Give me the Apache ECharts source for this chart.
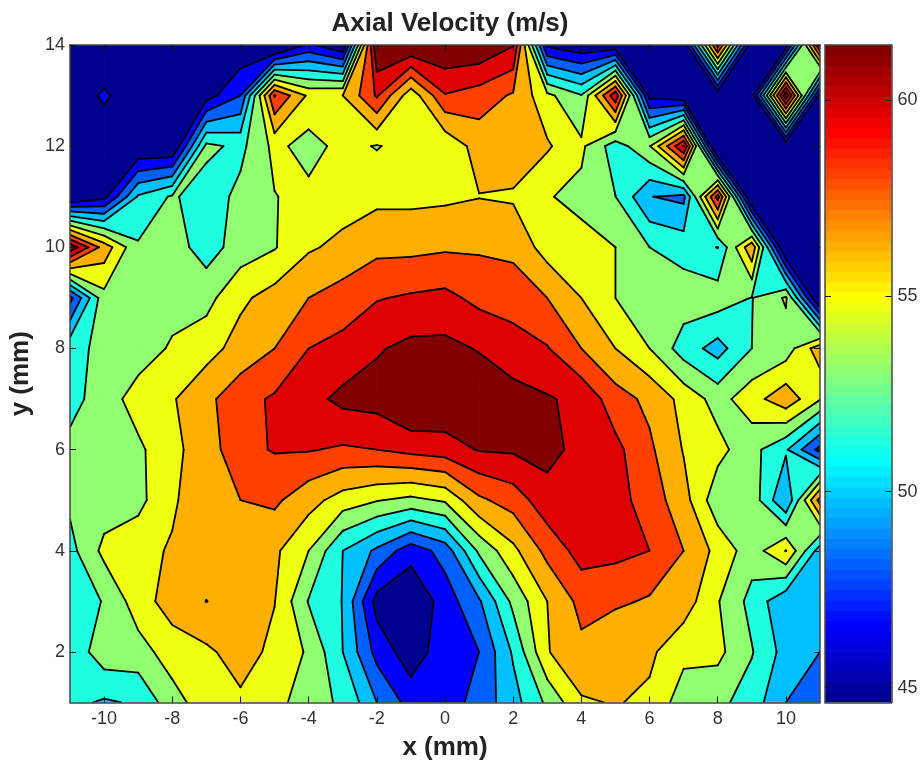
<!DOCTYPE html>
<html>
<head>
<meta charset="utf-8">
<style>html,body{margin:0;padding:0;background:#fff}#c{width:923px;height:762px}</style>
<script src="https://cdn.jsdelivr.net/npm/echarts@6/dist/echarts.min.js"></script>
</head>
<body>
<div id="c"></div>
<script>
const xValues = [-11,-10,-9,-8,-7,-6,-5,-4,-3,-2,-1,0,1,2,3,4,5,6,7,8,9,10,11];
const yValues = [14,13,12,11,10,9,8,7,6,5,4,3,2,1];
const row14 = [44.5,44.5,44.5,44.5,44.5,45,43.5,46.6,44.8,61.4,61.5,61.3,61.2,60,46,45.1,45,44.5,45,59,45,45.3,60];
const row13 = [45,46.6,45.1,45.1,45.6,47.8,58.5,55,55.3,58.6,54.3,58.3,57.7,56.7,54.2,52.4,59.5,45.8,45,45,45.5,61,45.5];
const row12 = [44.5,45,44.7,44.6,52.7,51.9,54.2,53.2,54.3,53.7,54.4,54.05,56,56.3,55.5,54.1,51.5,53.7,60,43,44.5,44.9,44];
const row11 = [44.5,45.8,51,52.5,51.5,52.7,53.75,54.2,54.6,54.9,54.9,55,55.25,55.1,53.9,53.4,52.32,49.35,48.9,59,44,44,44];
const row10 = [61,56.2,52.5,53,51.6,53,53.7,55.1,55.7,56.5,56.5,56.7,56.7,56.5,54.6,54.3,53.8,52.3,51.7,50.75,56.5,44,44];
const row9  = [47.3,53.3,53.2,53.2,53.3,55,55.9,56.9,57.6,58.3,58.6,58.8,58,57.8,56.9,55.3,53.8,53.2,53.1,53.1,52.25,54,44];
const row8  = [51.8,52.7,53,54,54.7,55.9,56.9,58.4,58.85,59.75,60.3,60.3,59.8,59,58.5,56.9,55.3,53.8,51.56,50.2,52.3,53,56.2];
const row7  = [51.8,53,54.5,55.15,56.5,57.9,58.6,59.4,60.3,60.5,61.6,61.2,61,60.5,60.05,59.5,57.6,56.5,54.8,53.2,54.7,56.3,53.9];
const row6  = [52.7,53,53.5,54.9,56.1,58,58.5,58.5,58.2,58.4,58.9,59.2,60,60.1,60.4,59.4,58.8,57.2,55.2,54.3,52.8,51,47.3];
const row5  = [52.6,53,53.4,55,56.7,56.9,57.2,55.9,54.6,53.9,53.4,54,56.6,57.6,59.3,59.4,58.9,57.8,55.9,52.8,53.2,49.3,57.5];
const row4  = [51.8,54.2,54.7,55.5,56.3,56.6,55.6,53.8,50.8,49,46.9,48.4,52.6,54.9,57.4,59,58.8,58.4,56.9,54.8,53,55.35,50];
const row3  = [51.3,52.4,54.6,56,56.92,56.3,55.35,52.2,50.75,45.7,44.9,47,49.1,52.7,55.3,57.4,57.2,56.7,56.1,53.9,51.8,49.6,50];
const row2  = [51.2,53.2,53.2,54.5,55,56,54.9,53.6,50.8,47.3,45.4,47.2,47.8,51,55.2,56.5,55.3,55.6,54.2,54.2,52.4,50.2,49.3];
const row1  = [51.2,50.6,51,53.2,54.6,55,54.6,52.55,52.2,49.3,47.2,47,48.4,50.2,52.6,55.1,55.4,55,53,52.7,51.6,49.3,48.5];
const rows = [row14,row13,row12,row11,row10,row9,row8,row7,row6,row5,row4,row3,row2,row1];

const levels = [46.3,47.8,49.3,50.8,52.3,53.8,55.3,56.9,58.4,59.9];
const bandColors = ['#00008F','#0000FF','#0060FF','#00C0FF','#20FFDF','#90FF70','#EFFF10','#FFAF00','#FF4000','#DF0000','#800000'];
const xTicks = [-10,-8,-6,-4,-2,0,2,4,6,8,10];
const yTicks = [2,4,6,8,10,12,14];
const barTicks = [45,50,55,60];
const barMin = 44.62, barMax = 61.4;
const jet = ['#00008F','#00009F','#0000AF','#0000BF','#0000CF','#0000DF','#0000EF','#0000FF','#0010FF','#0020FF','#0030FF','#0040FF','#0050FF','#0060FF','#0070FF','#0080FF','#008FFF','#009FFF','#00AFFF','#00BFFF','#00CFFF','#00DFFF','#00EFFF','#00FFFF','#10FFEF','#20FFDF','#30FFCF','#40FFBF','#50FFAF','#60FF9F','#70FF8F','#80FF80','#8FFF70','#9FFF60','#AFFF50','#BFFF40','#CFFF30','#DFFF20','#EFFF10','#FFFF00','#FFEF00','#FFDF00','#FFCF00','#FFBF00','#FFAF00','#FF9F00','#FF8F00','#FF8000','#FF7000','#FF6000','#FF5000','#FF4000','#FF3000','#FF2000','#FF1000','#FF0000','#EF0000','#DF0000','#CF0000','#BF0000','#AF0000','#9F0000','#8F0000','#800000'];
// saddle cells resolved the other way in the reference: "column,row" -> centre value
const saddleCentres = {'3,2':52.5};

const cells = [];
for (let r = 0; r < rows.length - 1; r++) for (let c = 0; c < xValues.length - 1; c++) cells.push([r, c]);

function corners(r, c) {
  const cs = [[r,c],[r,c+1],[r+1,c+1],[r+1,c]].map(p => ({x:xValues[p[1]], y:yValues[p[0]], z:rows[p[0]][p[1]]}));
  const k = c + ',' + r;
  cs.mean = saddleCentres[k] !== undefined ? saddleCentres[k] : (cs[0].z+cs[1].z+cs[2].z+cs[3].z)/4;
  return cs;
}
function lerp(a, b, L) {
  const t = (L - a.z) / (b.z - a.z);
  return [a.x + t*(b.x-a.x), a.y + t*(b.y-a.y)];
}
function bandPolygons(cs, lo, hi) {
  const m = cs.mean;
  const pts = [];
  for (let k = 0; k < 4; k++) {
    const a = cs[k], b = cs[(k+1)%4];
    if (a.z >= lo && a.z < hi) pts.push([a.x,a.y]);
    else if ((m < lo && a.z < lo) || (m >= hi && a.z >= hi)) pts.push(null);
    const bounds = a.z < b.z ? [lo,hi] : [hi,lo];
    for (const L of bounds) {
      if (!isFinite(L)) continue;
      if ((a.z >= L) !== (b.z >= L)) pts.push(lerp(a,b,L));
    }
  }
  let last = -1;
  for (let i = 0; i < pts.length; i++) if (pts[i] === null) last = i;
  const seq = last < 0 ? pts : pts.slice(last+1).concat(pts.slice(0,last+1));
  const out = []; let cur = [];
  for (const p of seq) {
    if (p === null) { if (cur.length > 2) out.push(cur); cur = []; }
    else cur.push(p);
  }
  if (cur.length > 2) out.push(cur);
  return out;
}
function levelSegments(cs, L) {
  const m = cs.mean;
  const cross = [], list = [];
  for (let k = 0; k < 4; k++) {
    const a = cs[k], b = cs[(k+1)%4];
    if ((a.z >= L) !== (b.z >= L)) { cross[k] = lerp(a,b,L); list.push(cross[k]); }
  }
  if (list.length === 2) return [list];
  if (list.length === 4) {
    const segs = [];
    for (let k = 0; k < 4; k++) {
      if ((cs[k].z >= L) !== (m >= L)) segs.push([cross[(k+3)%4], cross[k]]);
    }
    return segs;
  }
  return [];
}
function renderFill(params, api) {
  const d = cells[params.dataIndex];
  const cs = corners(d[0], d[1]);
  const children = [];
  for (let b = 0; b < bandColors.length; b++) {
    const lo = b === 0 ? -Infinity : levels[b-1];
    const hi = b === levels.length ? Infinity : levels[b];
    for (const poly of bandPolygons(cs, lo, hi)) {
      children.push({type:'polygon', shape:{points:poly.map(p=>api.coord(p))},
        style:{fill:bandColors[b], stroke:bandColors[b], lineWidth:1}});
    }
  }
  return {type:'group', children};
}
function renderLines(params, api) {
  const d = cells[params.dataIndex];
  const cs = corners(d[0], d[1]);
  const children = [];
  for (const L of levels) {
    for (const s of levelSegments(cs, L)) {
      const a = api.coord(s[0]), b = api.coord(s[1]);
      children.push({type:'line', shape:{x1:a[0],y1:a[1],x2:b[0],y2:b[1]},
        style:{stroke:'#000', lineWidth:1.8, lineCap:'round'}});
    }
  }
  return {type:'group', children};
}
function renderBar(params, api) {
  const i = params.dataIndex;
  const lo = barMin + i*(barMax-barMin)/jet.length, hi = barMin + (i+1)*(barMax-barMin)/jet.length;
  const p0 = api.coord([0,hi]), p1 = api.coord([1,lo]);
  return {type:'rect', shape:{x:p0[0], y:p0[1], width:p1[0]-p0[0], height:p1[1]-p0[1]+0.7}, style:{fill:jet[i]}};
}
const font = '"Liberation Sans", Arial, sans-serif';
const lineSt = {show:true, onZero:false, lineStyle:{color:'#444', width:1.5}};
const tickSt = v => ({show:true, inside:true, length:6, customValues:v, lineStyle:{color:'#111', width:1}});
const labelSt = (v,m) => ({show:true, customValues:v, fontFamily:font, fontSize:18, color:'#333', margin:m});
const nameSt = {fontFamily:font, fontSize:26, fontWeight:'bold', color:'#222'};
const chart = echarts.init(document.getElementById('c'), null, {renderer:'canvas'});
chart.setOption({
  animation:false,
  backgroundColor:'#fff',
  title:{text:'Axial Velocity (m/s)', left:445, top:6, textAlign:'center',
    textStyle:nameSt},
  grid:[{left:70, right:103, top:45, bottom:59.5, outerBoundsMode:'none'},{left:825, right:31.5, top:45, bottom:59.5, outerBoundsMode:'none'}],
  xAxis:[
    {type:'value', gridIndex:0, min:-11, max:11, position:'bottom', z:10,
      name:'x (mm)', nameLocation:'middle', nameGap:32,
      nameTextStyle:nameSt,
      axisLine:lineSt, axisTick:tickSt(xTicks), axisLabel:labelSt(xTicks,8), splitLine:{show:false}},
    {type:'value', gridIndex:0, min:-11, max:11, position:'top', z:10,
      axisLine:lineSt, axisTick:tickSt(xTicks), axisLabel:{show:false}, splitLine:{show:false}},
    {type:'value', gridIndex:1, min:0, max:1, position:'bottom', z:10, axisLine:lineSt, axisTick:{show:false}, axisLabel:{show:false}, splitLine:{show:false}},
    {type:'value', gridIndex:1, min:0, max:1, position:'top', z:10, axisLine:lineSt, axisTick:{show:false}, axisLabel:{show:false}, splitLine:{show:false}}
  ],
  yAxis:[
    {type:'value', gridIndex:0, min:1, max:14, position:'left', z:10,
      name:'y (mm)', nameLocation:'middle', nameGap:29, nameRotate:90,
      nameTextStyle:nameSt,
      axisLine:lineSt, axisTick:tickSt(yTicks), axisLabel:labelSt(yTicks,5), splitLine:{show:false}},
    {type:'value', gridIndex:0, min:1, max:14, position:'right', z:10,
      axisLine:lineSt, axisTick:tickSt(yTicks), axisLabel:{show:false}, splitLine:{show:false}},
    {type:'value', gridIndex:1, min:barMin, max:barMax, position:'right', z:10,
      axisLine:lineSt, axisTick:tickSt(barTicks), axisLabel:labelSt(barTicks,6), splitLine:{show:false}},
    {type:'value', gridIndex:1, min:barMin, max:barMax, position:'left', z:10,
      axisLine:lineSt, axisTick:tickSt(barTicks), axisLabel:{show:false}, splitLine:{show:false}}
  ],
  series:[
    {type:'custom', xAxisIndex:0, yAxisIndex:0, coordinateSystem:'cartesian2d', clip:true, silent:true, z:2,
      renderItem:renderFill, data:cells.map(d=>[xValues[d[1]], yValues[d[0]]])},
    {type:'custom', xAxisIndex:0, yAxisIndex:0, coordinateSystem:'cartesian2d', clip:true, silent:true, z:3,
      renderItem:renderLines, data:cells.map(d=>[xValues[d[1]], yValues[d[0]]])},
    {type:'custom', xAxisIndex:2, yAxisIndex:2, coordinateSystem:'cartesian2d', clip:true, silent:true, z:2,
      renderItem:renderBar, data:jet.map((c,i)=>[0.5, barMin + (i+0.5)*(barMax-barMin)/jet.length])}
  ]
});
</script>
</body>
</html>
